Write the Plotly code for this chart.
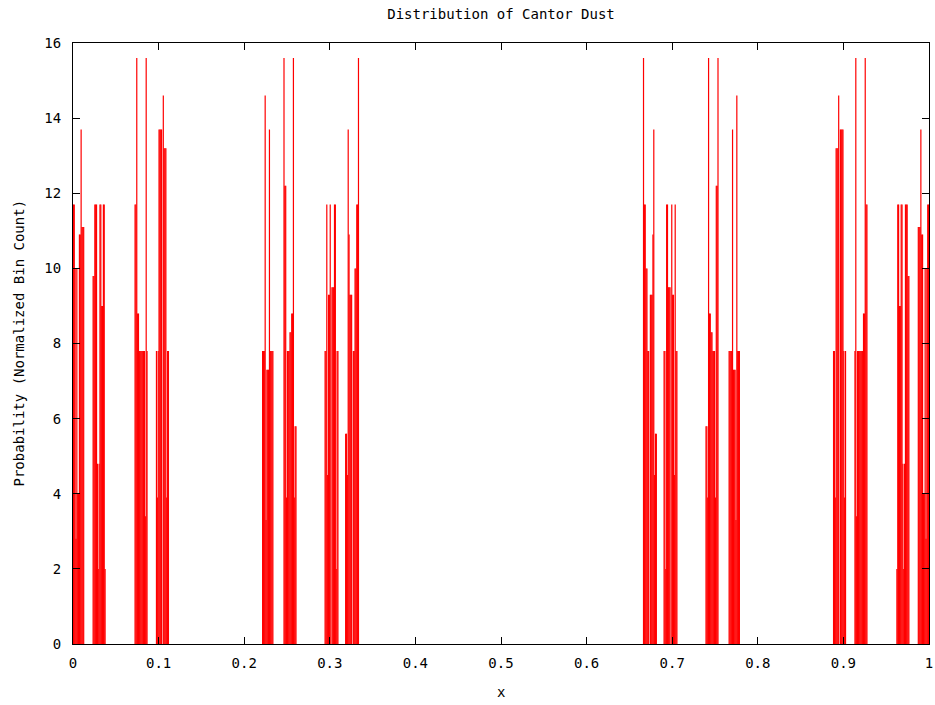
import plotly.graph_objects as go

BIN_WIDTH = 0.001

# occupied histogram bins (index of 0.001-wide bin) and normalized counts, read per cluster
c1_bins = [0, 1, 2, 3, 4, 5, 6, 7, 8, 9, 10, 11, 12,
           23, 24, 25, 26, 27, 28, 29, 30, 31, 32, 33, 34, 35, 36, 37]
c1_vals = [11.7, 11.7, 10.0, 2.8, 10.0, 4.0, 4.0, 10.9, 10.9, 13.7, 11.1, 11.1, 11.1,
           9.8, 9.8, 11.7, 11.7, 11.7, 4.8, 2.0, 4.8, 11.7, 11.7, 9.0, 9.0, 11.7, 11.7, 2.0]

c2_bins = [72, 73, 74, 75, 76, 77, 78, 79, 80, 81, 82, 83, 84, 85, 86,
           97, 98, 99, 100, 101, 102, 103, 105, 106, 107, 108, 109, 110, 111]
c2_vals = [11.7, 11.7, 15.6, 8.8, 8.8, 7.8, 7.8, 7.8, 7.8, 7.8, 7.8, 7.8, 3.4, 15.6, 7.8,
           7.8, 3.9, 7.8, 13.7, 13.7, 13.7, 13.7, 14.6, 13.2, 13.2, 13.2, 3.9, 7.8, 7.8]

c3_bins = [221, 222, 223, 224, 225, 226, 227, 228, 229, 230, 231, 232, 233,
           246, 247, 248, 249, 250, 251, 252, 253, 254, 255, 256, 257, 258, 259, 260]
c3_vals = [7.8, 7.8, 7.8, 14.6, 3.3, 7.3, 7.3, 7.3, 13.7, 7.8, 7.8, 7.8, 7.8,
           15.6, 12.2, 12.2, 3.9, 7.8, 7.8, 7.8, 8.3, 8.3, 8.8, 8.8, 15.6, 3.9, 5.8, 5.8]

c4_bins = [294, 295, 296, 297, 298, 299, 300, 302, 303, 304, 305, 306, 307, 308, 309,
           318, 319, 320, 321, 322, 323, 324, 325, 327, 328, 329, 330, 331, 332, 333]
c4_vals = [7.8, 7.8, 11.7, 4.5, 9.3, 9.3, 11.7, 9.5, 9.5, 9.5, 11.7, 11.7, 2.0, 7.8, 7.8,
           5.6, 5.6, 4.5, 13.7, 10.9, 9.3, 9.3, 9.3, 7.8, 7.8, 10.0, 10.0, 11.7, 11.7, 15.6]

c5_bins = [666, 667, 668, 669, 670, 671, 672, 674, 675, 676, 677, 678, 679, 680, 681,
           690, 691, 692, 693, 694, 695, 696, 697, 699, 700, 701, 702, 703, 704, 705]
c5_vals = [15.6, 11.7, 11.7, 10.0, 10.0, 7.8, 7.8, 9.3, 9.3, 9.3, 10.9, 13.7, 4.5, 5.6, 5.6,
           7.8, 7.8, 2.0, 11.7, 11.7, 9.5, 9.5, 9.5, 11.7, 9.3, 9.3, 4.5, 11.7, 7.8, 7.8]

c6_bins = [739, 740, 741, 742, 743, 744, 745, 746, 747, 748, 749, 750, 751, 752, 753,
           766, 767, 768, 769, 770, 771, 772, 773, 774, 775, 776, 777, 778]
c6_vals = [5.8, 5.8, 3.9, 15.6, 8.8, 8.8, 8.3, 8.3, 7.8, 7.8, 7.8, 3.9, 12.2, 12.2, 15.6,
           7.8, 7.8, 7.8, 7.8, 13.7, 7.3, 7.3, 7.3, 3.3, 14.6, 7.8, 7.8, 7.8]

c7_bins = [888, 889, 890, 891, 892, 893, 894, 896, 897, 898, 899, 900, 901, 902,
           913, 914, 915, 916, 917, 918, 919, 920, 921, 922, 923, 924, 925, 926, 927]
c7_vals = [7.8, 7.8, 3.9, 13.2, 13.2, 13.2, 14.6, 13.7, 13.7, 13.7, 13.7, 7.8, 3.9, 7.8,
           7.8, 15.6, 3.4, 7.8, 7.8, 7.8, 7.8, 7.8, 7.8, 7.8, 8.8, 8.8, 15.6, 11.7, 11.7]

c8_bins = [962, 963, 964, 965, 966, 967, 968, 969, 970, 971, 972, 973, 974, 975, 976,
           987, 988, 989, 990, 991, 992, 993, 994, 995, 996, 997, 998, 999]
c8_vals = [2.0, 11.7, 11.7, 9.0, 9.0, 11.7, 11.7, 4.8, 2.0, 4.8, 11.7, 11.7, 11.7, 9.8, 9.8,
           11.1, 11.1, 11.1, 13.7, 10.9, 10.9, 4.0, 4.0, 10.0, 2.8, 10.0, 11.7, 11.7]

x_tick_vals = [0, 0.1, 0.2, 0.3, 0.4, 0.5, 0.6, 0.7, 0.8, 0.9, 1]
x_tick_text = ["0", "0.1", "0.2", "0.3", "0.4", "0.5", "0.6", "0.7", "0.8", "0.9", "1"]
y_tick_vals = [0, 2, 4, 6, 8, 10, 12, 14, 16]

all_bins = c1_bins + c2_bins + c3_bins + c4_bins + c5_bins + c6_bins + c7_bins + c8_bins
all_vals = c1_vals + c2_vals + c3_vals + c4_vals + c5_vals + c6_vals + c7_vals + c8_vals

# impulses: vertical line from 0 to value at each bin centre
xs, ys = [], []
for b, v in zip(all_bins, all_vals):
    xc = (b + 0.5) * BIN_WIDTH
    xs += [xc, xc, None]
    ys += [0, v, None]

FONT = "DejaVu Sans Mono"

fig = go.Figure()
fig.add_trace(go.Scatter(x=xs, y=ys, mode="lines",
                         line=dict(color="#ff0000", width=1.2),
                         hoverinfo="skip", showlegend=False, cliponaxis=False))

axis_common = dict(showgrid=False, zeroline=False, showline=True, linecolor="black",
                   linewidth=1, mirror="ticks", ticks="inside", ticklen=7,
                   tickcolor="black", tickwidth=1, automargin=False,
                   tickfont=dict(family=FONT, size=14, color="black"))

fig.update_xaxes(range=[0, 1], tickmode="array", tickvals=x_tick_vals,
                 ticktext=x_tick_text, ticklabelstandoff=6, **axis_common)
fig.update_yaxes(range=[0, 16], tickmode="array", tickvals=y_tick_vals,
                 ticklabelstandoff=8, **axis_common)

fig.update_layout(
    width=935, height=705,
    margin=dict(l=73, r=6, t=43, b=61, autoexpand=False),
    plot_bgcolor="white", paper_bgcolor="white",
    title=dict(text="Distribution of Cantor Dust", x=0.5, xref="paper",
               y=1 - 14 / 705, yanchor="middle", automargin=False,
               font=dict(family=FONT, size=14, color="black")),
    annotations=[
        dict(text="x", xref="paper", yref="paper", x=0.5, y=-(692 - 644) / 601,
             xanchor="center", yanchor="middle", showarrow=False,
             font=dict(family=FONT, size=14, color="black")),
        dict(text="Probability (Normalized Bin Count)", xref="paper", yref="paper",
             x=-(73 - 18) / 856, y=0.5, xanchor="center", yanchor="middle",
             textangle=-90, showarrow=False,
             font=dict(family=FONT, size=14, color="black")),
    ],
)

fig.write_html("out.html", config={"displayModeBar": False},
               post_script="document.body.style.margin='0';document.body.style.overflow='hidden';")
